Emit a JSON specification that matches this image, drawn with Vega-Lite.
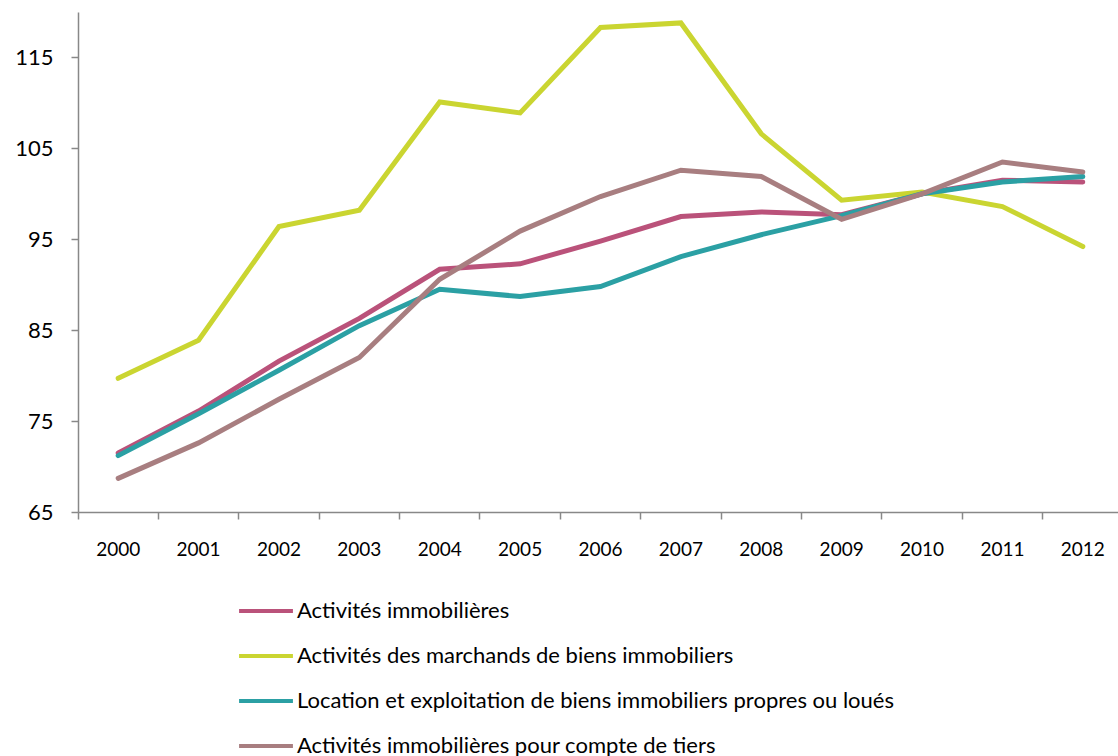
{
  "$schema": "https://vega.github.io/schema/vega-lite/v6.json",
  "width": 1045,
  "height": 500,
  "autosize": "none",
  "padding": {"left": 78, "top": 12, "right": 0, "bottom": 244},
  "background": "white",
  "config": {"view": {"stroke": null}, "font": "Lato"},
  "data": {"values": [
    {"annee": "2000", "serie": "Activités immobilières", "valeur": 71.5},
    {"annee": "2001", "serie": "Activités immobilières", "valeur": 76.1},
    {"annee": "2002", "serie": "Activités immobilières", "valeur": 81.6},
    {"annee": "2003", "serie": "Activités immobilières", "valeur": 86.3},
    {"annee": "2004", "serie": "Activités immobilières", "valeur": 91.7},
    {"annee": "2005", "serie": "Activités immobilières", "valeur": 92.3},
    {"annee": "2006", "serie": "Activités immobilières", "valeur": 94.8},
    {"annee": "2007", "serie": "Activités immobilières", "valeur": 97.5},
    {"annee": "2008", "serie": "Activités immobilières", "valeur": 98.0},
    {"annee": "2009", "serie": "Activités immobilières", "valeur": 97.7},
    {"annee": "2010", "serie": "Activités immobilières", "valeur": 100.0},
    {"annee": "2011", "serie": "Activités immobilières", "valeur": 101.5},
    {"annee": "2012", "serie": "Activités immobilières", "valeur": 101.3},
    {"annee": "2000", "serie": "Activités des marchands de biens immobiliers", "valeur": 79.7},
    {"annee": "2001", "serie": "Activités des marchands de biens immobiliers", "valeur": 83.9},
    {"annee": "2002", "serie": "Activités des marchands de biens immobiliers", "valeur": 96.4},
    {"annee": "2003", "serie": "Activités des marchands de biens immobiliers", "valeur": 98.2},
    {"annee": "2004", "serie": "Activités des marchands de biens immobiliers", "valeur": 110.1},
    {"annee": "2005", "serie": "Activités des marchands de biens immobiliers", "valeur": 108.9},
    {"annee": "2006", "serie": "Activités des marchands de biens immobiliers", "valeur": 118.3},
    {"annee": "2007", "serie": "Activités des marchands de biens immobiliers", "valeur": 118.8},
    {"annee": "2008", "serie": "Activités des marchands de biens immobiliers", "valeur": 106.6},
    {"annee": "2009", "serie": "Activités des marchands de biens immobiliers", "valeur": 99.3},
    {"annee": "2010", "serie": "Activités des marchands de biens immobiliers", "valeur": 100.2},
    {"annee": "2011", "serie": "Activités des marchands de biens immobiliers", "valeur": 98.6},
    {"annee": "2012", "serie": "Activités des marchands de biens immobiliers", "valeur": 94.2},
    {"annee": "2000", "serie": "Location et exploitation de biens immobiliers propres ou loués", "valeur": 71.2},
    {"annee": "2001", "serie": "Location et exploitation de biens immobiliers propres ou loués", "valeur": 75.8},
    {"annee": "2002", "serie": "Location et exploitation de biens immobiliers propres ou loués", "valeur": 80.6},
    {"annee": "2003", "serie": "Location et exploitation de biens immobiliers propres ou loués", "valeur": 85.5},
    {"annee": "2004", "serie": "Location et exploitation de biens immobiliers propres ou loués", "valeur": 89.5},
    {"annee": "2005", "serie": "Location et exploitation de biens immobiliers propres ou loués", "valeur": 88.7},
    {"annee": "2006", "serie": "Location et exploitation de biens immobiliers propres ou loués", "valeur": 89.8},
    {"annee": "2007", "serie": "Location et exploitation de biens immobiliers propres ou loués", "valeur": 93.1},
    {"annee": "2008", "serie": "Location et exploitation de biens immobiliers propres ou loués", "valeur": 95.5},
    {"annee": "2009", "serie": "Location et exploitation de biens immobiliers propres ou loués", "valeur": 97.6},
    {"annee": "2010", "serie": "Location et exploitation de biens immobiliers propres ou loués", "valeur": 100.0},
    {"annee": "2011", "serie": "Location et exploitation de biens immobiliers propres ou loués", "valeur": 101.3},
    {"annee": "2012", "serie": "Location et exploitation de biens immobiliers propres ou loués", "valeur": 101.9},
    {"annee": "2000", "serie": "Activités immobilières pour compte de tiers", "valeur": 68.7},
    {"annee": "2001", "serie": "Activités immobilières pour compte de tiers", "valeur": 72.6},
    {"annee": "2002", "serie": "Activités immobilières pour compte de tiers", "valeur": 77.4},
    {"annee": "2003", "serie": "Activités immobilières pour compte de tiers", "valeur": 82.0},
    {"annee": "2004", "serie": "Activités immobilières pour compte de tiers", "valeur": 90.6},
    {"annee": "2005", "serie": "Activités immobilières pour compte de tiers", "valeur": 95.9},
    {"annee": "2006", "serie": "Activités immobilières pour compte de tiers", "valeur": 99.7},
    {"annee": "2007", "serie": "Activités immobilières pour compte de tiers", "valeur": 102.6},
    {"annee": "2008", "serie": "Activités immobilières pour compte de tiers", "valeur": 101.9},
    {"annee": "2009", "serie": "Activités immobilières pour compte de tiers", "valeur": 97.2},
    {"annee": "2010", "serie": "Activités immobilières pour compte de tiers", "valeur": 100.0},
    {"annee": "2011", "serie": "Activités immobilières pour compte de tiers", "valeur": 103.5},
    {"annee": "2012", "serie": "Activités immobilières pour compte de tiers", "valeur": 102.4}
  ]},
  "mark": {"type": "line", "strokeWidth": 5, "strokeJoin": "miter", "strokeCap": "round"},
  "encoding": {
    "x": {
      "field": "annee", "type": "ordinal",
      "scale": {"type": "band", "paddingInner": 0, "paddingOuter": 0},
      "axis": {
        "title": null, "bandPosition": 0, "labelAngle": 0,
        "domainColor": "#888888", "domainWidth": 1.5, "tickColor": "#888888", "tickWidth": 1.5, "tickSize": 7,
        "labelFontSize": 19, "labelColor": "#000000", "labelPadding": 30, "labelBaseline": "middle", "grid": false
      }
    },
    "y": {
      "field": "valeur", "type": "quantitative",
      "scale": {"domain": [65, 120], "nice": false, "zero": false},
      "axis": {
        "title": null, "values": [65, 75, 85, 95, 105, 115],
        "domainColor": "#888888", "domainWidth": 1.5, "tickColor": "#888888", "tickWidth": 1.5, "tickSize": 7,
        "labelFontSize": 22, "labelColor": "#000000", "labelPadding": 18, "grid": false
      }
    },
    "color": {
      "field": "serie", "type": "nominal",
      "scale": {
        "domain": ["Activités immobilières", "Activités des marchands de biens immobiliers", "Location et exploitation de biens immobiliers propres ou loués", "Activités immobilières pour compte de tiers"],
        "range": ["#BA527A", "#CAD531", "#2BA0A4", "#A87E80"]
      },
      "legend": {
        "title": null, "orient": "none", "legendX": 159, "legendY": 570,
        "direction": "vertical", "symbolType": "stroke", "symbolSize": 2900, "symbolStrokeWidth": 4,
        "labelFontSize": 22, "labelColor": "#000000", "labelOffset": 2, "rowPadding": 5, "labelLimit": 900
      }
    }
  }
}
